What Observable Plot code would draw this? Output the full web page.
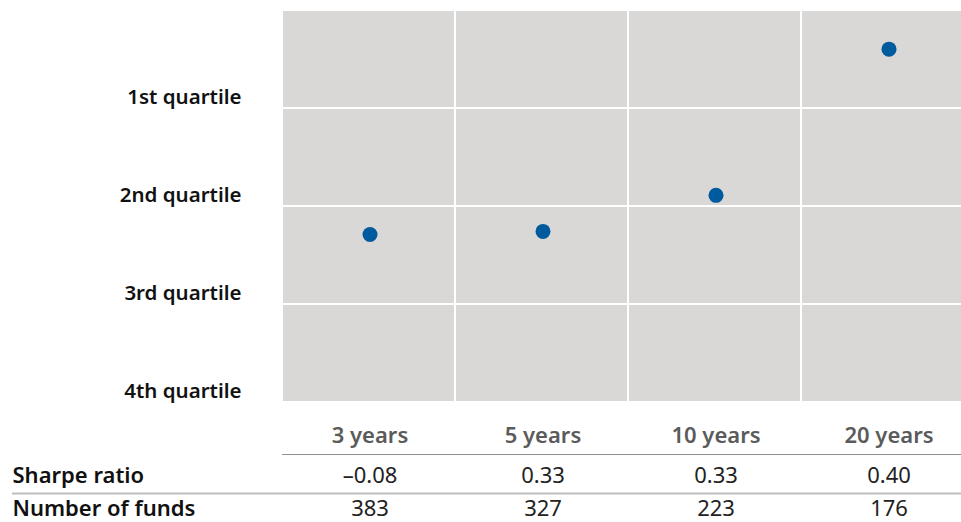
<!DOCTYPE html>
<html>
<head>
<meta charset="utf-8">
<script src="https://cdn.jsdelivr.net/npm/d3@7"></script>
<script src="https://cdn.jsdelivr.net/npm/@observablehq/plot@0.6"></script>
<style>
  html, body { margin: 0; padding: 0; background: #fff; overflow: hidden; }
  #chart svg { display: block; overflow: hidden; }
</style>
</head>
<body>
<div id="chart"></div>
<script>
const periods = ["3 years", "5 years", "10 years", "20 years"];
const percentileRank = [43.1, 43.9, 53.1, 90.4];
const sharpeRatio = [-0.08, 0.33, 0.33, 0.40];
const fundCount = [383, 327, 223, 176];
const quartileLabels = ["1st quartile", "2nd quartile", "3rd quartile", "4th quartile"];
const quartileLow = [75, 50, 25, 0];
const quartileHigh = [100, 75, 50, 25];
const rowLabels = ["Sharpe ratio", "Number of funds"];

const cells = periods.flatMap(p => quartileLow.map((lo, i) => ({period: p, lo, hi: quartileHigh[i]})));
const points = periods.map((p, i) => ({period: p, rank: percentileRank[i]}));
const fmtSharpe = v => v.toFixed(2).replace("-", "\u2013");

const font = "'Noto Sans', 'Open Sans', sans-serif";
const fsQ = 20.5;
const fs = 22;

const chart = Plot.plot({
  width: 961,
  height: 522,
  marginTop: 11,
  marginBottom: 119,
  marginLeft: 282,
  marginRight: -15,
  x: {domain: periods, padding: 0, axis: null},
  y: {domain: [0, 100], axis: null},
  style: {fontFamily: font, background: "#fff"},
  marks: [
    Plot.barY(cells, {x: "period", y1: "lo", y2: "hi", fill: "#d9d8d6", insetLeft: 0, insetRight: 2, insetTop: 0, insetBottom: 2}),
    Plot.dot(points, {x: "period", y: "rank", r: 7.5, fill: "#005a9e", stroke: "none"}),
    Plot.text(quartileLabels, {
      y: (d, i) => quartileLow[i], frameAnchor: "left", dx: -41, dy: -12,
      textAnchor: "end", lineAnchor: "middle", fontSize: fsQ, fontWeight: 600, fill: "#111"
    }),
    // table header
    Plot.text(periods, {x: d => d, frameAnchor: "bottom", lineAnchor: "middle", dy: 32, fontSize: fs, fontWeight: 600, fill: "#5b5b5b"}),
    Plot.ruleY([0], {frameAnchor: "bottom", dy: 51, stroke: "#8f8f8f", strokeWidth: 1.2}),
    // Sharpe row
    Plot.text([rowLabels[0]], {frameAnchor: "bottom-left", lineAnchor: "middle", dx: -270, dy: 72, textAnchor: "start", fontSize: fs, fontWeight: 600, fill: "#111"}),
    Plot.text(periods, {x: d => d, text: (d, i) => fmtSharpe(sharpeRatio[i]), frameAnchor: "bottom", lineAnchor: "middle", dy: 72, fontSize: fs, fill: "#222"}),
    Plot.ruleY([0], {frameAnchor: "bottom", dy: 90, insetLeft: -270, stroke: "#bdbdbd", strokeWidth: 2}),
    // Number of funds row
    Plot.text([rowLabels[1]], {frameAnchor: "bottom-left", lineAnchor: "middle", dx: -270, dy: 105, textAnchor: "start", fontSize: fs, fontWeight: 600, fill: "#111"}),
    Plot.text(periods, {x: d => d, text: (d, i) => String(fundCount[i]), frameAnchor: "bottom", lineAnchor: "middle", dy: 105, fontSize: fs, fill: "#222"})
  ]
});
document.getElementById("chart").appendChild(chart);
</script>
</body>
</html>
